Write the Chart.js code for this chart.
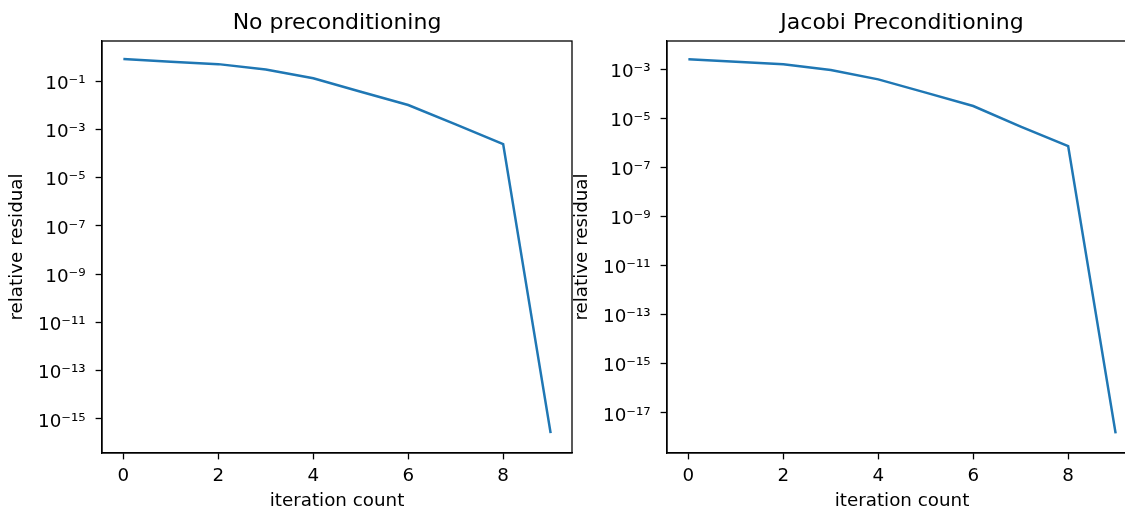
<!DOCTYPE html>
<html>
<head>
<meta charset="utf-8">
<script src="https://cdn.jsdelivr.net/npm/chart.js@4/dist/chart.umd.min.js"></script>
<style>
  html, body { margin: 0; padding: 0; background: #fff; overflow: hidden; width: 1125px; height: 510px; }
  canvas { position: absolute; top: 0; }
  #left { left: 0; }
  #right { left: 565px; }
</style>
</head>
<body>
<canvas id="left" width="580" height="512"></canvas>
<canvas id="right" width="580" height="512"></canvas>
<script>
// iteration index and relative residual
const iterations = [0, 1, 2, 3, 4, 5, 6, 7, 8, 9];
const residualNoPrecond = [0.81, 0.63, 0.5, 0.3, 0.13, 0.036, 0.0101, 0.0016, 2.45e-4, 2.6e-16];
const residualJacobi = [2.6e-3, 2.04e-3, 1.6e-3, 9.3e-4, 3.9e-4, 1.12e-4, 3.2e-5, 4.6e-6, 7.4e-7, 1.45e-18];

const xTicks = [0, 2, 4, 6, 8];
const xTickLabels = ['0', '2', '4', '6', '8'];

const leftYTicks = [1e-1, 1e-3, 1e-5, 1e-7, 1e-9, 1e-11, 1e-13, 1e-15];
const leftYLabels = ['10⁻¹', '10⁻³', '10⁻⁵', '10⁻⁷', '10⁻⁹', '10⁻¹¹', '10⁻¹³', '10⁻¹⁵'];
const rightYTicks = [1e-3, 1e-5, 1e-7, 1e-9, 1e-11, 1e-13, 1e-15, 1e-17];
const rightYLabels = ['10⁻³', '10⁻⁵', '10⁻⁷', '10⁻⁹', '10⁻¹¹', '10⁻¹³', '10⁻¹⁵', '10⁻¹⁷'];

const FONT = 'DejaVu Sans';

// draws the top and right spines too
const boxPlugin = {
  id: 'box',
  afterDraw(chart) {
    const a = chart.chartArea;
    const ctx = chart.ctx;
    ctx.save();
    ctx.strokeStyle = '#000';
    ctx.lineWidth = 1.3;
    ctx.strokeRect(a.left, a.top, a.right - a.left, a.bottom - a.top);
    ctx.restore();
  }
};

function makeChart(id, title, values, yMin, yMax, yTicks, yLabels) {
  const ctx = document.getElementById(id).getContext('2d');
  return new Chart(ctx, {
    type: 'line',
    data: {
      datasets: [{
        data: iterations.map((x, i) => ({ x: x, y: values[i] })),
        borderColor: '#1f77b4',
        borderWidth: 2.5,
        pointRadius: 0,
        tension: 0,
        fill: false
      }]
    },
    options: {
      responsive: false,
      animation: false,
      layout: { padding: { left: 0, right: 8, top: 0, bottom: 0 } },
      plugins: {
        legend: { display: false },
        tooltip: { enabled: false },
        title: {
          display: true,
          fullSize: false,
          text: title,
          color: '#000',
          font: { family: FONT, size: 22, weight: 'normal' },
          padding: { top: 9.6, bottom: 5 }
        }
      },
      scales: {
        x: {
          type: 'linear',
          min: -0.45,
          max: 9.45,
          afterBuildTicks: s => { s.ticks = xTicks.map(v => ({ value: v })); },
          afterFit: s => { s.height = 59; },
          ticks: {
            color: '#000',
            font: { family: FONT, size: 18.3 },
            padding: 5.8,
            maxRotation: 0,
            callback: (v, i) => xTickLabels[i]
          },
          grid: { drawOnChartArea: false, drawTicks: true, tickLength: 6.4, tickWidth: 1.3, tickColor: '#000' },
          border: { display: true, color: '#000', width: 1.3 },
          title: {
            display: true,
            text: 'iteration count',
            color: '#000',
            font: { family: FONT, size: 18.3 },
            padding: { top: 0, bottom: 0 }
          }
        },
        y: {
          type: 'logarithmic',
          min: yMin,
          max: yMax,
          afterBuildTicks: s => { s.ticks = yTicks.map(v => ({ value: v })); },
          afterFit: s => { s.width = 102; },
          ticks: {
            color: '#000',
            font: { family: FONT, size: 18.3 },
            padding: 10,
            labelOffset: 3,
            callback: (v, i) => yLabels[i]
          },
          grid: { drawOnChartArea: false, drawTicks: true, tickLength: 6.4, tickWidth: 1.3, tickColor: '#000' },
          border: { display: true, color: '#000', width: 1.3 },
          title: {
            display: true,
            text: 'relative residual',
            color: '#000',
            font: { family: FONT, size: 18.3 },
            padding: { top: 6.3, bottom: 0 }
          }
        }
      }
    },
    plugins: [boxPlugin]
  });
}

makeChart('left', 'No preconditioning', residualNoPrecond,
  Math.pow(10, -16.41), Math.pow(10, 0.657), leftYTicks, leftYLabels);
makeChart('right', 'Jacobi Preconditioning', residualJacobi,
  Math.pow(10, -18.64), Math.pow(10, -1.846), rightYTicks, rightYLabels);
</script>
</body>
</html>
